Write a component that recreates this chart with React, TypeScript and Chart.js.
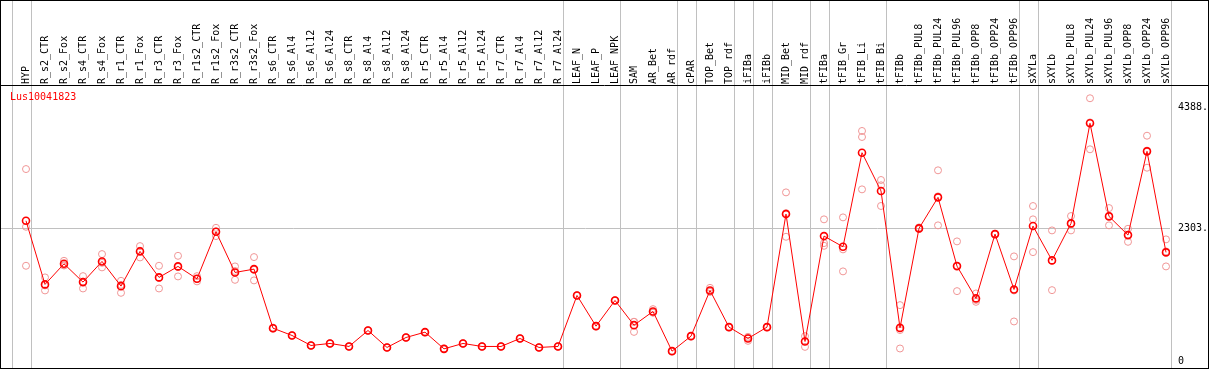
import React, { useEffect, useRef } from "react";
import { Chart, registerables } from "chart.js";

Chart.register(...registerables);

const categories: string[] = [
  "HYP", "R_s2_CTR", "R_s2_Fox", "R_s4_CTR", "R_s4_Fox", "R_r1_CTR", "R_r1_Fox", "R_r3_CTR", "R_r3_Fox",
  "R_r1s2_CTR", "R_r1s2_Fox", "R_r3s2_CTR", "R_r3s2_Fox", "R_s6_CTR", "R_s6_Al4", "R_s6_Al12", "R_s6_Al24",
  "R_s8_CTR", "R_s8_Al4", "R_s8_Al12", "R_s8_Al24", "R_r5_CTR", "R_r5_Al4", "R_r5_Al12", "R_r5_Al24",
  "R_r7_CTR", "R_r7_Al4", "R_r7_Al12", "R_r7_Al24", "LEAF_N", "LEAF_P", "LEAF_NPK", "SAM", "AR_Bet", "AR_rdf",
  "cPAR", "TOP_Bet", "TOP_rdf", "iFIBa", "iFIBb", "MID_Bet", "MID_rdf", "tFIBa", "tFIB_Gr", "tFIB_Li", "tFIB_Bi",
  "tFIBb", "tFIBb_PUL8", "tFIBb_PUL24", "tFIBb_PUL96", "tFIBb_OPP8", "tFIBb_OPP24", "tFIBb_OPP96",
  "sXYLa", "sXYLb", "sXYLb_PUL8", "sXYLb_PUL24", "sXYLb_PUL96", "sXYLb_OPP8", "sXYLb_OPP24", "sXYLb_OPP96",
];

const meanValues: number[] = [
  2434, 1335, 1691, 1375, 1732, 1305, 1905, 1456, 1646, 1432, 2244, 1542, 1599, 579, 453, 280, 315,
  263, 539, 246, 418, 510, 222, 315, 263, 263, 401, 246, 263, 1144, 614, 1058, 631, 868, 182,
  441, 1231, 597, 401, 597, 2550, 349, 2170, 1985, 3610, 2949, 584, 2303, 2839, 1651, 1093, 2204, 1248,
  2343, 1750, 2389, 4118, 2510, 2187, 3634, 1888,
];

const replicate1: number[] = [
  3328, 1456, 1743, 1478, 1859, 1397, 1997, 1657, 1829, 1478, 2313, 1646, 1807, 590, 460, 285, 320,
  268, 545, 250, 424, 515, 226, 320, 268, 268, 407, 250, 268, 1150, 620, 1064, 688, 908, 186,
  446, 1276, 602, 430, 602, 2925, 441, 2459, 2493, 3986, 3139, 977, 2320, 3306, 2078, 1179, 2210, 1819,
  2689, 2268, 2516, 4551, 2654, 2296, 3904, 2113,
];

const replicate2: number[] = [
  2331, 1231, 1668, 1265, 1629, 1190, 1801, 1265, 1473, 1387, 2170, 1414, 1404, 570, 447, 276, 310,
  259, 534, 242, 413, 505, 218, 310, 259, 259, 396, 242, 259, 1138, 609, 1052, 515, 850, 178,
  436, 1210, 592, 360, 592, 2158, 256, 2002, 1940, 3882, 3047, 228, 2290, 2355, 1219, 1034, 2200, 695,
  2459, 1236, 2268, 3669, 2355, 2071, 3351, 1646,
];

const replicate3: number[] = [
  1657, 1318, 1662, 1382, 1708, 1328, 1917, 1446, 1636, 1431, 2249, 1566, 1586, 577, 452, 279, 315,
  262, 538, 246, 417, 510, 222, 315, 262, 262, 400, 246, 262, 1144, 613, 1058, 690, 846, 182,
  441, 1207, 597, 413, 597, 2567, 350, 2049, 1560, 2977, 2690, 547, 2299, 2856, 1656, 1066, 2202, 1230,
  1893, 1746, 2383, 4134, 2521, 2194, 3647, 1905,
];

const yTickValues: number[] = [0, 2303, 4388];
const groupStarts: number[] = [0, 1, 29, 32, 35, 36, 38, 39, 40, 42, 43, 46, 53, 54, 61];
const chartTitle = "Lus10041823";

const MONO = "'DejaVu Sans Mono', monospace";

export default function App() {
  const canvasRef = useRef<HTMLCanvasElement | null>(null);

  useEffect(() => {
    document.body.style.margin = "0";
    const canvas = canvasRef.current;
    if (!canvas) return;

    const meanPoints = meanValues.map((v, i) => ({ x: i, y: v }));
    const repPoints: { x: number; y: number }[] = [];
    [replicate1, replicate2, replicate3].forEach((arr) =>
      arr.forEach((v, i) => repPoints.push({ x: i, y: v }))
    );

    const framePlugin = {
      id: "framePlugin",
      beforeDatasetsDraw(chart: any) {
        const ctx = chart.ctx;
        const xs = chart.scales.x;
        ctx.save();
        ctx.strokeStyle = "#c0c0c0";
        ctx.lineWidth = 1;
        groupStarts.forEach((g) => {
          const px = Math.round(xs.getPixelForValue(g - 0.737)) + 0.5;
          ctx.beginPath();
          ctx.moveTo(px, 0);
          ctx.lineTo(px, 368);
          ctx.stroke();
        });
        ctx.restore();
      },
      afterDraw(chart: any) {
        const ctx = chart.ctx;
        ctx.save();
        ctx.strokeStyle = "#000";
        ctx.lineWidth = 1;
        ctx.strokeRect(0.5, 0.5, 1208, 368);
        ctx.beginPath();
        ctx.moveTo(0, 85.5);
        ctx.lineTo(1209, 85.5);
        ctx.stroke();
        ctx.fillStyle = "#ff0000";
        ctx.font = "10px " + MONO;
        ctx.textBaseline = "middle";
        ctx.textAlign = "left";
        ctx.fillText(chartTitle, 10, 97);
        ctx.restore();
      },
    };

    const chart = new Chart(canvas, {
      type: "line",
      data: {
        datasets: [
          {
            data: meanPoints,
            borderColor: "#ff0000",
            borderWidth: 1,
            pointRadius: 3.5,
            pointBorderWidth: 1.6,
            pointBorderColor: "#ff0000",
            pointBackgroundColor: "rgba(0,0,0,0)",
            fill: false,
            tension: 0,
          },
          {
            type: "scatter",
            data: repPoints,
            showLine: false,
            pointRadius: 3.5,
            pointBorderWidth: 1,
            pointBorderColor: "rgb(240,150,150)",
            pointBackgroundColor: "rgba(0,0,0,0)",
          } as any,
        ],
      },
      options: {
        animation: false,
        responsive: false,
        devicePixelRatio: 1,
        layout: { autoPadding: false, padding: { left: 1, right: 0, top: 0, bottom: 2 } },
        plugins: { legend: { display: false }, tooltip: { enabled: false }, title: { display: false } },
        scales: {
          x: {
            type: "linear",
            position: "top",
            min: -25 / 19,
            max: 1144 / 19,
            afterBuildTicks: (scale: any) => {
              scale.ticks = categories.map((_, i) => ({ value: i }));
            },
            afterFit: (scale: any) => {
              scale.height = 85;
              scale.paddingLeft = 0;
              scale.paddingRight = 0;
              scale.paddingTop = 0;
              scale.paddingBottom = 0;
            },
            grid: { display: false, drawTicks: false },
            border: { display: false },
            ticks: {
              autoSkip: false,
              minRotation: 90,
              maxRotation: 90,
              padding: 1,
              labelOffset: 12,
              color: "#000",
              font: { family: MONO, size: 10 },
              callback: (v: any) => categories[v as number] ?? "",
            },
          },
          y: {
            type: "linear",
            position: "right",
            min: -109,
            max: 4780,
            afterBuildTicks: (scale: any) => {
              scale.ticks = yTickValues.map((v) => ({ value: v }));
            },
            afterFit: (scale: any) => {
              scale.width = 39;
              scale.paddingLeft = 0;
              scale.paddingRight = 0;
              scale.paddingTop = 0;
              scale.paddingBottom = 0;
            },
            grid: {
              drawTicks: false,
              lineWidth: 1,
              color: (c: any) => (c.tick && c.tick.value === 2303 ? "#c0c0c0" : "rgba(0,0,0,0)"),
            },
            border: { display: false },
            ticks: {
              padding: 8,
              color: "#000",
              font: { family: MONO, size: 10 },
              callback: (v: any) => (v === 0 ? "0" : v + "."),
            },
          },
        },
      },
      plugins: [framePlugin],
    });

    return () => chart.destroy();
  }, []);

  return (
    <div style={{ width: 1209, height: 370 }}>
      <canvas ref={canvasRef} width={1209} height={370} style={{ display: "block" }} />
    </div>
  );
}
